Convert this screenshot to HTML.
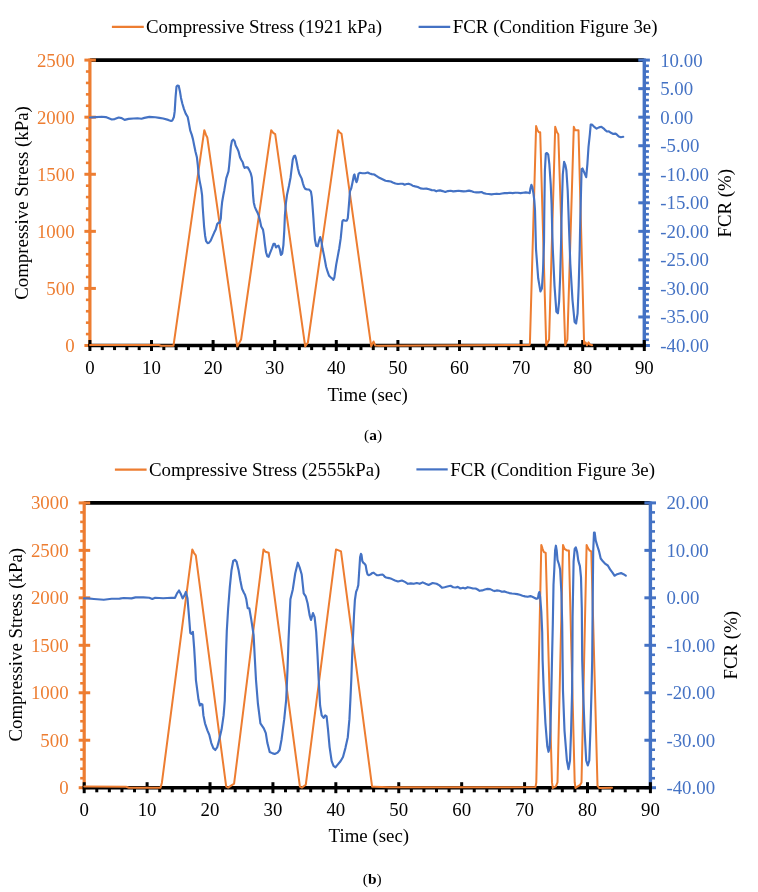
<!DOCTYPE html>
<html><head><meta charset="utf-8"><style>
html,body{margin:0;padding:0;background:#fff;width:758px;height:892px;overflow:hidden}
</style></head><body>
<svg width="758" height="892" viewBox="0 0 758 892" style="position:absolute;left:0;top:0;will-change:transform;font-family:'Liberation Serif',serif;font-size:18.85px">
<rect width="758" height="892" fill="#fff"/>
<line x1="111.9" y1="26.8" x2="143.8" y2="26.8" stroke="#ED7D31" stroke-width="2.2"/>
<text x="146" y="32.9" fill="#000">Compressive Stress (1921 kPa)</text>
<line x1="418.6" y1="26.8" x2="450.2" y2="26.8" stroke="#4472C4" stroke-width="2.2"/>
<text x="452.8" y="32.9" fill="#000">FCR (Condition Figure 3e)</text>
<line x1="89.9" y1="60.1" x2="644.3" y2="60.1" stroke="#000" stroke-width="3.6"/>
<line x1="89.9" y1="58.6" x2="89.9" y2="345.5" stroke="#ED7D31" stroke-width="3.2"/>
<line x1="84.4" y1="345.50" x2="95.9" y2="345.50" stroke="#ED7D31" stroke-width="3"/>
<line x1="85.9" y1="334.08" x2="89.9" y2="334.08" stroke="#ED7D31" stroke-width="2.6"/>
<line x1="85.9" y1="322.67" x2="89.9" y2="322.67" stroke="#ED7D31" stroke-width="2.6"/>
<line x1="85.9" y1="311.25" x2="89.9" y2="311.25" stroke="#ED7D31" stroke-width="2.6"/>
<line x1="85.9" y1="299.84" x2="89.9" y2="299.84" stroke="#ED7D31" stroke-width="2.6"/>
<line x1="84.4" y1="288.42" x2="95.9" y2="288.42" stroke="#ED7D31" stroke-width="3"/>
<line x1="85.9" y1="277.00" x2="89.9" y2="277.00" stroke="#ED7D31" stroke-width="2.6"/>
<line x1="85.9" y1="265.59" x2="89.9" y2="265.59" stroke="#ED7D31" stroke-width="2.6"/>
<line x1="85.9" y1="254.17" x2="89.9" y2="254.17" stroke="#ED7D31" stroke-width="2.6"/>
<line x1="85.9" y1="242.76" x2="89.9" y2="242.76" stroke="#ED7D31" stroke-width="2.6"/>
<line x1="84.4" y1="231.34" x2="95.9" y2="231.34" stroke="#ED7D31" stroke-width="3"/>
<line x1="85.9" y1="219.92" x2="89.9" y2="219.92" stroke="#ED7D31" stroke-width="2.6"/>
<line x1="85.9" y1="208.51" x2="89.9" y2="208.51" stroke="#ED7D31" stroke-width="2.6"/>
<line x1="85.9" y1="197.09" x2="89.9" y2="197.09" stroke="#ED7D31" stroke-width="2.6"/>
<line x1="85.9" y1="185.68" x2="89.9" y2="185.68" stroke="#ED7D31" stroke-width="2.6"/>
<line x1="84.4" y1="174.26" x2="95.9" y2="174.26" stroke="#ED7D31" stroke-width="3"/>
<line x1="85.9" y1="162.84" x2="89.9" y2="162.84" stroke="#ED7D31" stroke-width="2.6"/>
<line x1="85.9" y1="151.43" x2="89.9" y2="151.43" stroke="#ED7D31" stroke-width="2.6"/>
<line x1="85.9" y1="140.01" x2="89.9" y2="140.01" stroke="#ED7D31" stroke-width="2.6"/>
<line x1="85.9" y1="128.60" x2="89.9" y2="128.60" stroke="#ED7D31" stroke-width="2.6"/>
<line x1="84.4" y1="117.18" x2="95.9" y2="117.18" stroke="#ED7D31" stroke-width="3"/>
<line x1="85.9" y1="105.76" x2="89.9" y2="105.76" stroke="#ED7D31" stroke-width="2.6"/>
<line x1="85.9" y1="94.35" x2="89.9" y2="94.35" stroke="#ED7D31" stroke-width="2.6"/>
<line x1="85.9" y1="82.93" x2="89.9" y2="82.93" stroke="#ED7D31" stroke-width="2.6"/>
<line x1="85.9" y1="71.52" x2="89.9" y2="71.52" stroke="#ED7D31" stroke-width="2.6"/>
<line x1="84.4" y1="60.10" x2="95.9" y2="60.10" stroke="#ED7D31" stroke-width="3"/>
<text x="74.6" y="351.90" text-anchor="end" fill="#ED7D31">0</text>
<text x="74.6" y="294.82" text-anchor="end" fill="#ED7D31">500</text>
<text x="74.6" y="237.74" text-anchor="end" fill="#ED7D31">1000</text>
<text x="74.6" y="180.66" text-anchor="end" fill="#ED7D31">1500</text>
<text x="74.6" y="123.58" text-anchor="end" fill="#ED7D31">2000</text>
<text x="74.6" y="66.50" text-anchor="end" fill="#ED7D31">2500</text>
<line x1="644.3" y1="58.6" x2="644.3" y2="345.5" stroke="#4472C4" stroke-width="3.4"/>
<line x1="638.3" y1="345.50" x2="649.9" y2="345.50" stroke="#4472C4" stroke-width="3"/>
<line x1="644.3" y1="339.79" x2="648.9" y2="339.79" stroke="#4472C4" stroke-width="2.6"/>
<line x1="644.3" y1="334.08" x2="648.9" y2="334.08" stroke="#4472C4" stroke-width="2.6"/>
<line x1="644.3" y1="328.38" x2="648.9" y2="328.38" stroke="#4472C4" stroke-width="2.6"/>
<line x1="644.3" y1="322.67" x2="648.9" y2="322.67" stroke="#4472C4" stroke-width="2.6"/>
<line x1="638.3" y1="316.96" x2="649.9" y2="316.96" stroke="#4472C4" stroke-width="3"/>
<line x1="644.3" y1="311.25" x2="648.9" y2="311.25" stroke="#4472C4" stroke-width="2.6"/>
<line x1="644.3" y1="305.54" x2="648.9" y2="305.54" stroke="#4472C4" stroke-width="2.6"/>
<line x1="644.3" y1="299.84" x2="648.9" y2="299.84" stroke="#4472C4" stroke-width="2.6"/>
<line x1="644.3" y1="294.13" x2="648.9" y2="294.13" stroke="#4472C4" stroke-width="2.6"/>
<line x1="638.3" y1="288.42" x2="649.9" y2="288.42" stroke="#4472C4" stroke-width="3"/>
<line x1="644.3" y1="282.71" x2="648.9" y2="282.71" stroke="#4472C4" stroke-width="2.6"/>
<line x1="644.3" y1="277.00" x2="648.9" y2="277.00" stroke="#4472C4" stroke-width="2.6"/>
<line x1="644.3" y1="271.30" x2="648.9" y2="271.30" stroke="#4472C4" stroke-width="2.6"/>
<line x1="644.3" y1="265.59" x2="648.9" y2="265.59" stroke="#4472C4" stroke-width="2.6"/>
<line x1="638.3" y1="259.88" x2="649.9" y2="259.88" stroke="#4472C4" stroke-width="3"/>
<line x1="644.3" y1="254.17" x2="648.9" y2="254.17" stroke="#4472C4" stroke-width="2.6"/>
<line x1="644.3" y1="248.46" x2="648.9" y2="248.46" stroke="#4472C4" stroke-width="2.6"/>
<line x1="644.3" y1="242.76" x2="648.9" y2="242.76" stroke="#4472C4" stroke-width="2.6"/>
<line x1="644.3" y1="237.05" x2="648.9" y2="237.05" stroke="#4472C4" stroke-width="2.6"/>
<line x1="638.3" y1="231.34" x2="649.9" y2="231.34" stroke="#4472C4" stroke-width="3"/>
<line x1="644.3" y1="225.63" x2="648.9" y2="225.63" stroke="#4472C4" stroke-width="2.6"/>
<line x1="644.3" y1="219.92" x2="648.9" y2="219.92" stroke="#4472C4" stroke-width="2.6"/>
<line x1="644.3" y1="214.22" x2="648.9" y2="214.22" stroke="#4472C4" stroke-width="2.6"/>
<line x1="644.3" y1="208.51" x2="648.9" y2="208.51" stroke="#4472C4" stroke-width="2.6"/>
<line x1="638.3" y1="202.80" x2="649.9" y2="202.80" stroke="#4472C4" stroke-width="3"/>
<line x1="644.3" y1="197.09" x2="648.9" y2="197.09" stroke="#4472C4" stroke-width="2.6"/>
<line x1="644.3" y1="191.38" x2="648.9" y2="191.38" stroke="#4472C4" stroke-width="2.6"/>
<line x1="644.3" y1="185.68" x2="648.9" y2="185.68" stroke="#4472C4" stroke-width="2.6"/>
<line x1="644.3" y1="179.97" x2="648.9" y2="179.97" stroke="#4472C4" stroke-width="2.6"/>
<line x1="638.3" y1="174.26" x2="649.9" y2="174.26" stroke="#4472C4" stroke-width="3"/>
<line x1="644.3" y1="168.55" x2="648.9" y2="168.55" stroke="#4472C4" stroke-width="2.6"/>
<line x1="644.3" y1="162.84" x2="648.9" y2="162.84" stroke="#4472C4" stroke-width="2.6"/>
<line x1="644.3" y1="157.14" x2="648.9" y2="157.14" stroke="#4472C4" stroke-width="2.6"/>
<line x1="644.3" y1="151.43" x2="648.9" y2="151.43" stroke="#4472C4" stroke-width="2.6"/>
<line x1="638.3" y1="145.72" x2="649.9" y2="145.72" stroke="#4472C4" stroke-width="3"/>
<line x1="644.3" y1="140.01" x2="648.9" y2="140.01" stroke="#4472C4" stroke-width="2.6"/>
<line x1="644.3" y1="134.30" x2="648.9" y2="134.30" stroke="#4472C4" stroke-width="2.6"/>
<line x1="644.3" y1="128.60" x2="648.9" y2="128.60" stroke="#4472C4" stroke-width="2.6"/>
<line x1="644.3" y1="122.89" x2="648.9" y2="122.89" stroke="#4472C4" stroke-width="2.6"/>
<line x1="638.3" y1="117.18" x2="649.9" y2="117.18" stroke="#4472C4" stroke-width="3"/>
<line x1="644.3" y1="111.47" x2="648.9" y2="111.47" stroke="#4472C4" stroke-width="2.6"/>
<line x1="644.3" y1="105.76" x2="648.9" y2="105.76" stroke="#4472C4" stroke-width="2.6"/>
<line x1="644.3" y1="100.06" x2="648.9" y2="100.06" stroke="#4472C4" stroke-width="2.6"/>
<line x1="644.3" y1="94.35" x2="648.9" y2="94.35" stroke="#4472C4" stroke-width="2.6"/>
<line x1="638.3" y1="88.64" x2="649.9" y2="88.64" stroke="#4472C4" stroke-width="3"/>
<line x1="644.3" y1="82.93" x2="648.9" y2="82.93" stroke="#4472C4" stroke-width="2.6"/>
<line x1="644.3" y1="77.22" x2="648.9" y2="77.22" stroke="#4472C4" stroke-width="2.6"/>
<line x1="644.3" y1="71.52" x2="648.9" y2="71.52" stroke="#4472C4" stroke-width="2.6"/>
<line x1="644.3" y1="65.81" x2="648.9" y2="65.81" stroke="#4472C4" stroke-width="2.6"/>
<line x1="638.3" y1="60.10" x2="649.9" y2="60.10" stroke="#4472C4" stroke-width="3"/>
<text x="660.2" y="351.90" fill="#4472C4">-40.00</text>
<text x="660.2" y="323.36" fill="#4472C4">-35.00</text>
<text x="660.2" y="294.82" fill="#4472C4">-30.00</text>
<text x="660.2" y="266.28" fill="#4472C4">-25.00</text>
<text x="660.2" y="237.74" fill="#4472C4">-20.00</text>
<text x="660.2" y="209.20" fill="#4472C4">-15.00</text>
<text x="660.2" y="180.66" fill="#4472C4">-10.00</text>
<text x="660.2" y="152.12" fill="#4472C4">-5.00</text>
<text x="660.2" y="123.58" fill="#4472C4">0.00</text>
<text x="660.2" y="95.04" fill="#4472C4">5.00</text>
<text x="660.2" y="66.50" fill="#4472C4">10.00</text>
<line x1="88.4" y1="345.5" x2="645.8" y2="345.5" stroke="#000" stroke-width="3.6"/>
<line x1="89.90" y1="340.0" x2="89.90" y2="351.0" stroke="#000" stroke-width="3"/>
<line x1="102.22" y1="345.5" x2="102.22" y2="350.1" stroke="#000" stroke-width="3"/>
<line x1="114.54" y1="345.5" x2="114.54" y2="350.1" stroke="#000" stroke-width="3"/>
<line x1="126.86" y1="345.5" x2="126.86" y2="350.1" stroke="#000" stroke-width="3"/>
<line x1="139.18" y1="345.5" x2="139.18" y2="350.1" stroke="#000" stroke-width="3"/>
<line x1="151.50" y1="340.0" x2="151.50" y2="351.0" stroke="#000" stroke-width="3"/>
<line x1="163.82" y1="345.5" x2="163.82" y2="350.1" stroke="#000" stroke-width="3"/>
<line x1="176.14" y1="345.5" x2="176.14" y2="350.1" stroke="#000" stroke-width="3"/>
<line x1="188.46" y1="345.5" x2="188.46" y2="350.1" stroke="#000" stroke-width="3"/>
<line x1="200.78" y1="345.5" x2="200.78" y2="350.1" stroke="#000" stroke-width="3"/>
<line x1="213.10" y1="340.0" x2="213.10" y2="351.0" stroke="#000" stroke-width="3"/>
<line x1="225.42" y1="345.5" x2="225.42" y2="350.1" stroke="#000" stroke-width="3"/>
<line x1="237.74" y1="345.5" x2="237.74" y2="350.1" stroke="#000" stroke-width="3"/>
<line x1="250.06" y1="345.5" x2="250.06" y2="350.1" stroke="#000" stroke-width="3"/>
<line x1="262.38" y1="345.5" x2="262.38" y2="350.1" stroke="#000" stroke-width="3"/>
<line x1="274.70" y1="340.0" x2="274.70" y2="351.0" stroke="#000" stroke-width="3"/>
<line x1="287.02" y1="345.5" x2="287.02" y2="350.1" stroke="#000" stroke-width="3"/>
<line x1="299.34" y1="345.5" x2="299.34" y2="350.1" stroke="#000" stroke-width="3"/>
<line x1="311.66" y1="345.5" x2="311.66" y2="350.1" stroke="#000" stroke-width="3"/>
<line x1="323.98" y1="345.5" x2="323.98" y2="350.1" stroke="#000" stroke-width="3"/>
<line x1="336.30" y1="340.0" x2="336.30" y2="351.0" stroke="#000" stroke-width="3"/>
<line x1="348.62" y1="345.5" x2="348.62" y2="350.1" stroke="#000" stroke-width="3"/>
<line x1="360.94" y1="345.5" x2="360.94" y2="350.1" stroke="#000" stroke-width="3"/>
<line x1="373.26" y1="345.5" x2="373.26" y2="350.1" stroke="#000" stroke-width="3"/>
<line x1="385.58" y1="345.5" x2="385.58" y2="350.1" stroke="#000" stroke-width="3"/>
<line x1="397.90" y1="340.0" x2="397.90" y2="351.0" stroke="#000" stroke-width="3"/>
<line x1="410.22" y1="345.5" x2="410.22" y2="350.1" stroke="#000" stroke-width="3"/>
<line x1="422.54" y1="345.5" x2="422.54" y2="350.1" stroke="#000" stroke-width="3"/>
<line x1="434.86" y1="345.5" x2="434.86" y2="350.1" stroke="#000" stroke-width="3"/>
<line x1="447.18" y1="345.5" x2="447.18" y2="350.1" stroke="#000" stroke-width="3"/>
<line x1="459.50" y1="340.0" x2="459.50" y2="351.0" stroke="#000" stroke-width="3"/>
<line x1="471.82" y1="345.5" x2="471.82" y2="350.1" stroke="#000" stroke-width="3"/>
<line x1="484.14" y1="345.5" x2="484.14" y2="350.1" stroke="#000" stroke-width="3"/>
<line x1="496.46" y1="345.5" x2="496.46" y2="350.1" stroke="#000" stroke-width="3"/>
<line x1="508.78" y1="345.5" x2="508.78" y2="350.1" stroke="#000" stroke-width="3"/>
<line x1="521.10" y1="340.0" x2="521.10" y2="351.0" stroke="#000" stroke-width="3"/>
<line x1="533.42" y1="345.5" x2="533.42" y2="350.1" stroke="#000" stroke-width="3"/>
<line x1="545.74" y1="345.5" x2="545.74" y2="350.1" stroke="#000" stroke-width="3"/>
<line x1="558.06" y1="345.5" x2="558.06" y2="350.1" stroke="#000" stroke-width="3"/>
<line x1="570.38" y1="345.5" x2="570.38" y2="350.1" stroke="#000" stroke-width="3"/>
<line x1="582.70" y1="340.0" x2="582.70" y2="351.0" stroke="#000" stroke-width="3"/>
<line x1="595.02" y1="345.5" x2="595.02" y2="350.1" stroke="#000" stroke-width="3"/>
<line x1="607.34" y1="345.5" x2="607.34" y2="350.1" stroke="#000" stroke-width="3"/>
<line x1="619.66" y1="345.5" x2="619.66" y2="350.1" stroke="#000" stroke-width="3"/>
<line x1="631.98" y1="345.5" x2="631.98" y2="350.1" stroke="#000" stroke-width="3"/>
<line x1="644.30" y1="340.0" x2="644.30" y2="351.0" stroke="#000" stroke-width="3"/>
<text x="89.90" y="373.8" text-anchor="middle" fill="#000">0</text>
<text x="151.50" y="373.8" text-anchor="middle" fill="#000">10</text>
<text x="213.10" y="373.8" text-anchor="middle" fill="#000">20</text>
<text x="274.70" y="373.8" text-anchor="middle" fill="#000">30</text>
<text x="336.30" y="373.8" text-anchor="middle" fill="#000">40</text>
<text x="397.90" y="373.8" text-anchor="middle" fill="#000">50</text>
<text x="459.50" y="373.8" text-anchor="middle" fill="#000">60</text>
<text x="521.10" y="373.8" text-anchor="middle" fill="#000">70</text>
<text x="582.70" y="373.8" text-anchor="middle" fill="#000">80</text>
<text x="644.30" y="373.8" text-anchor="middle" fill="#000">90</text>
<polyline points="90.0,345.0 159.0,345.0 161.0,345.7 173.5,345.7 204.3,130.2 205.9,134.7 207.3,137.5 237.2,346.4 241.1,339.5 271.2,130.2 273.2,132.8 275.2,134.1 305.2,346.4 307.9,342.5 338.1,130.2 339.5,132.2 341.5,133.7 371.2,346.4 373.6,341.5 375.2,345.5 379.2,345.8 529.5,345.0 529.9,343.9 536.1,126.1 537.5,130.2 538.8,132.2 540.2,132.2 546.2,345.3 549.1,339.5 555.2,126.8 557.0,132.2 558.3,134.2 565.2,345.3 567.4,339.5 573.8,126.8 575.1,130.2 578.5,130.2 584.1,343.9 585.6,342.4 587.0,345.3 588.5,342.4 590.0,344.6 592.1,345.3" fill="none" stroke="#ED7D31" stroke-width="2.0" stroke-linejoin="round" stroke-linecap="round"/>
<polyline points="90.0,117.5 95.9,117.1 101.9,116.7 105.8,117.1 111.8,119.5 114.7,119.1 118.7,117.5 121.7,118.1 124.6,119.9 128.6,118.9 133.5,118.5 137.5,118.3 141.5,118.7 144.4,117.9 149.4,116.9 155.3,117.3 159.3,117.9 163.2,118.5 168.2,119.9 171.1,120.9 172.4,120.4 173.9,117.0 174.7,111.4 175.6,96.8 176.5,86.7 177.3,85.6 178.7,85.8 179.9,91.2 181.0,97.9 182.3,103.5 184.0,109.1 185.7,113.6 187.7,117.0 188.8,122.6 190.2,130.4 191.8,134.9 193.0,139.4 194.1,145.0 195.5,151.7 196.9,157.3 197.8,165.2 198.6,174.1 199.5,180.1 201.1,188.2 202.1,195.3 202.6,205.4 203.3,215.5 204.1,226.6 205.1,235.7 206.1,241.2 207.6,243.2 209.1,242.7 210.7,240.7 212.2,237.2 214.2,232.6 215.7,229.6 217.2,224.0 218.7,222.5 219.7,223.0 220.8,218.5 221.3,210.4 222.1,202.3 223.3,195.3 224.3,190.2 225.3,184.1 226.3,178.1 227.3,175.1 228.5,171.4 229.2,165.4 230.1,155.3 230.9,146.2 231.9,141.1 233.3,139.6 234.6,141.1 235.6,145.2 237.1,148.2 238.6,151.7 240.0,157.3 241.2,159.8 242.7,162.3 243.7,165.9 244.7,167.9 246.2,167.2 247.7,167.4 249.2,169.9 250.8,173.4 251.8,177.5 252.5,185.6 253.1,195.7 253.8,202.7 254.8,206.8 256.3,210.3 257.8,213.3 258.8,215.9 260.2,221.6 261.2,226.5 263.0,229.6 263.9,235.2 264.9,243.8 266.1,252.5 267.3,256.2 268.6,256.8 269.8,253.7 271.7,248.8 273.5,243.8 274.8,243.8 276.0,247.5 277.2,246.3 278.5,245.7 279.7,248.8 280.9,254.9 282.2,253.7 283.4,245.1 284.3,230.2 284.9,215.4 285.9,203.1 287.1,194.4 289.0,185.8 290.6,177.2 291.8,167.3 292.7,159.9 293.9,156.2 295.0,155.6 295.7,157.4 296.7,162.3 297.9,168.5 299.2,173.5 300.4,175.9 301.6,178.4 302.9,183.3 304.1,187.0 305.3,188.9 307.2,189.5 309.0,189.5 310.9,191.4 311.8,196.9 312.5,205.6 313.4,217.9 314.2,230.2 315.0,240.1 316.2,245.7 317.7,246.3 318.9,241.4 320.2,237.0 321.4,241.4 322.6,248.8 323.9,254.9 324.9,260.1 326.1,266.7 327.6,271.7 329.1,275.8 330.6,277.3 332.1,278.3 333.3,279.8 334.3,277.8 335.2,271.7 336.2,264.6 337.7,256.6 339.2,248.5 340.7,238.4 341.7,228.3 342.4,221.2 343.4,220.0 345.3,220.7 346.8,220.7 347.8,218.2 348.5,210.1 349.3,200.0 349.9,191.7 351.2,188.4 352.5,182.4 353.9,175.2 354.5,174.5 355.6,179.8 356.5,182.2 357.4,179.8 358.5,173.9 359.8,172.8 362.4,173.2 365.1,173.2 367.7,172.5 369.7,173.5 371.7,174.1 374.3,174.5 376.3,175.8 378.3,177.2 380.9,178.5 383.5,179.8 385.5,180.8 388.2,181.1 390.8,181.5 392.8,182.4 395.4,183.5 398.0,184.0 400.7,183.7 402.7,183.7 404.6,184.7 406.6,184.0 408.6,183.7 410.6,184.4 412.6,185.7 415.2,186.4 417.8,187.0 420.5,188.4 423.1,188.8 426.4,188.6 429.1,189.3 431.7,190.1 434.3,190.3 436.3,191.3 438.3,190.6 440.0,190.4 442.6,191.1 445.3,192.0 447.9,191.1 450.6,190.8 453.2,191.4 455.8,191.1 458.5,190.8 461.1,191.1 463.7,191.4 466.4,191.1 469.0,190.6 471.0,191.1 473.6,192.0 476.3,192.4 478.9,192.4 481.6,192.0 483.5,193.1 486.2,193.7 488.8,194.0 491.5,194.4 494.1,194.0 496.7,193.7 499.4,194.0 502.0,193.5 504.6,193.1 507.3,193.1 509.9,192.8 512.6,193.1 515.2,192.7 517.8,192.8 520.5,193.1 523.1,192.7 525.8,192.4 528.4,192.7 529.7,193.1 530.4,188.5 531.4,184.8 532.3,187.2 533.4,193.1 534.3,200.3 535.0,210.0 535.5,229.9 536.0,249.1 538.2,278.3 540.4,291.4 541.9,288.5 543.0,271.0 544.0,241.9 544.2,220.0 544.4,204.1 544.9,170.5 545.8,153.7 546.9,153.0 548.2,154.4 549.3,163.8 550.7,184.0 551.6,204.1 552.2,229.9 552.8,249.1 554.5,285.6 556.4,311.8 557.9,313.3 559.1,301.6 560.1,278.3 561.1,241.9 561.5,220.0 561.9,204.1 562.8,174.5 564.1,161.8 565.4,165.1 566.4,170.5 567.7,190.7 569.1,229.9 570.3,263.7 572.5,300.1 574.6,322.0 576.1,323.5 577.6,313.3 578.7,285.6 579.7,249.1 580.3,220.0 580.7,204.1 581.6,169.2 582.5,168.5 584.5,173.2 586.2,177.2 587.4,163.8 588.5,147.0 589.9,133.8 590.7,124.6 591.9,124.6 593.9,126.6 596.6,128.6 599.0,127.4 601.4,126.8 603.8,128.6 605.3,130.2 606.9,131.5 608.9,131.4 610.9,132.8 613.3,133.9 615.6,133.6 617.2,134.9 618.8,136.5 620.8,137.2 623.2,136.8" fill="none" stroke="#4472C4" stroke-width="2.15" stroke-linejoin="round" stroke-linecap="round"/>
<text transform="translate(27.9,299.8) rotate(-90)" fill="#000">Compressive Stress (kPa)</text>
<text transform="translate(731.3,237.6) rotate(-90)" fill="#000">FCR (%)</text>
<text x="327.4" y="400.8" fill="#000">Time (sec)</text>
<text x="364.1" y="440.0" style="font-size:15.4px" fill="#000">(<tspan font-weight="bold">a</tspan>)</text>
<line x1="114.9" y1="469.6" x2="146.6" y2="469.6" stroke="#ED7D31" stroke-width="2.2"/>
<text x="149" y="475.6" fill="#000">Compressive Stress (2555kPa)</text>
<line x1="416.4" y1="469.4" x2="447.7" y2="469.4" stroke="#4472C4" stroke-width="2.2"/>
<text x="450.3" y="475.6" fill="#000">FCR (Condition Figure 3e)</text>
<line x1="84.2" y1="502.9" x2="650.4" y2="502.9" stroke="#000" stroke-width="3.6"/>
<line x1="84.2" y1="501.4" x2="84.2" y2="787.7" stroke="#ED7D31" stroke-width="3.2"/>
<line x1="78.7" y1="787.70" x2="90.2" y2="787.70" stroke="#ED7D31" stroke-width="3"/>
<line x1="80.2" y1="778.21" x2="84.2" y2="778.21" stroke="#ED7D31" stroke-width="2.6"/>
<line x1="80.2" y1="768.71" x2="84.2" y2="768.71" stroke="#ED7D31" stroke-width="2.6"/>
<line x1="80.2" y1="759.22" x2="84.2" y2="759.22" stroke="#ED7D31" stroke-width="2.6"/>
<line x1="80.2" y1="749.73" x2="84.2" y2="749.73" stroke="#ED7D31" stroke-width="2.6"/>
<line x1="78.7" y1="740.23" x2="90.2" y2="740.23" stroke="#ED7D31" stroke-width="3"/>
<line x1="80.2" y1="730.74" x2="84.2" y2="730.74" stroke="#ED7D31" stroke-width="2.6"/>
<line x1="80.2" y1="721.25" x2="84.2" y2="721.25" stroke="#ED7D31" stroke-width="2.6"/>
<line x1="80.2" y1="711.75" x2="84.2" y2="711.75" stroke="#ED7D31" stroke-width="2.6"/>
<line x1="80.2" y1="702.26" x2="84.2" y2="702.26" stroke="#ED7D31" stroke-width="2.6"/>
<line x1="78.7" y1="692.77" x2="90.2" y2="692.77" stroke="#ED7D31" stroke-width="3"/>
<line x1="80.2" y1="683.27" x2="84.2" y2="683.27" stroke="#ED7D31" stroke-width="2.6"/>
<line x1="80.2" y1="673.78" x2="84.2" y2="673.78" stroke="#ED7D31" stroke-width="2.6"/>
<line x1="80.2" y1="664.29" x2="84.2" y2="664.29" stroke="#ED7D31" stroke-width="2.6"/>
<line x1="80.2" y1="654.79" x2="84.2" y2="654.79" stroke="#ED7D31" stroke-width="2.6"/>
<line x1="78.7" y1="645.30" x2="90.2" y2="645.30" stroke="#ED7D31" stroke-width="3"/>
<line x1="80.2" y1="635.81" x2="84.2" y2="635.81" stroke="#ED7D31" stroke-width="2.6"/>
<line x1="80.2" y1="626.31" x2="84.2" y2="626.31" stroke="#ED7D31" stroke-width="2.6"/>
<line x1="80.2" y1="616.82" x2="84.2" y2="616.82" stroke="#ED7D31" stroke-width="2.6"/>
<line x1="80.2" y1="607.33" x2="84.2" y2="607.33" stroke="#ED7D31" stroke-width="2.6"/>
<line x1="78.7" y1="597.83" x2="90.2" y2="597.83" stroke="#ED7D31" stroke-width="3"/>
<line x1="80.2" y1="588.34" x2="84.2" y2="588.34" stroke="#ED7D31" stroke-width="2.6"/>
<line x1="80.2" y1="578.85" x2="84.2" y2="578.85" stroke="#ED7D31" stroke-width="2.6"/>
<line x1="80.2" y1="569.35" x2="84.2" y2="569.35" stroke="#ED7D31" stroke-width="2.6"/>
<line x1="80.2" y1="559.86" x2="84.2" y2="559.86" stroke="#ED7D31" stroke-width="2.6"/>
<line x1="78.7" y1="550.37" x2="90.2" y2="550.37" stroke="#ED7D31" stroke-width="3"/>
<line x1="80.2" y1="540.87" x2="84.2" y2="540.87" stroke="#ED7D31" stroke-width="2.6"/>
<line x1="80.2" y1="531.38" x2="84.2" y2="531.38" stroke="#ED7D31" stroke-width="2.6"/>
<line x1="80.2" y1="521.89" x2="84.2" y2="521.89" stroke="#ED7D31" stroke-width="2.6"/>
<line x1="80.2" y1="512.39" x2="84.2" y2="512.39" stroke="#ED7D31" stroke-width="2.6"/>
<line x1="78.7" y1="502.90" x2="90.2" y2="502.90" stroke="#ED7D31" stroke-width="3"/>
<text x="68.6" y="794.10" text-anchor="end" fill="#ED7D31">0</text>
<text x="68.6" y="746.63" text-anchor="end" fill="#ED7D31">500</text>
<text x="68.6" y="699.17" text-anchor="end" fill="#ED7D31">1000</text>
<text x="68.6" y="651.70" text-anchor="end" fill="#ED7D31">1500</text>
<text x="68.6" y="604.23" text-anchor="end" fill="#ED7D31">2000</text>
<text x="68.6" y="556.77" text-anchor="end" fill="#ED7D31">2500</text>
<text x="68.6" y="509.30" text-anchor="end" fill="#ED7D31">3000</text>
<line x1="650.4" y1="501.4" x2="650.4" y2="787.7" stroke="#4472C4" stroke-width="3.4"/>
<line x1="644.4" y1="787.70" x2="656.0" y2="787.70" stroke="#4472C4" stroke-width="3"/>
<line x1="650.4" y1="778.21" x2="655.0" y2="778.21" stroke="#4472C4" stroke-width="2.6"/>
<line x1="650.4" y1="768.71" x2="655.0" y2="768.71" stroke="#4472C4" stroke-width="2.6"/>
<line x1="650.4" y1="759.22" x2="655.0" y2="759.22" stroke="#4472C4" stroke-width="2.6"/>
<line x1="650.4" y1="749.73" x2="655.0" y2="749.73" stroke="#4472C4" stroke-width="2.6"/>
<line x1="644.4" y1="740.23" x2="656.0" y2="740.23" stroke="#4472C4" stroke-width="3"/>
<line x1="650.4" y1="730.74" x2="655.0" y2="730.74" stroke="#4472C4" stroke-width="2.6"/>
<line x1="650.4" y1="721.25" x2="655.0" y2="721.25" stroke="#4472C4" stroke-width="2.6"/>
<line x1="650.4" y1="711.75" x2="655.0" y2="711.75" stroke="#4472C4" stroke-width="2.6"/>
<line x1="650.4" y1="702.26" x2="655.0" y2="702.26" stroke="#4472C4" stroke-width="2.6"/>
<line x1="644.4" y1="692.77" x2="656.0" y2="692.77" stroke="#4472C4" stroke-width="3"/>
<line x1="650.4" y1="683.27" x2="655.0" y2="683.27" stroke="#4472C4" stroke-width="2.6"/>
<line x1="650.4" y1="673.78" x2="655.0" y2="673.78" stroke="#4472C4" stroke-width="2.6"/>
<line x1="650.4" y1="664.29" x2="655.0" y2="664.29" stroke="#4472C4" stroke-width="2.6"/>
<line x1="650.4" y1="654.79" x2="655.0" y2="654.79" stroke="#4472C4" stroke-width="2.6"/>
<line x1="644.4" y1="645.30" x2="656.0" y2="645.30" stroke="#4472C4" stroke-width="3"/>
<line x1="650.4" y1="635.81" x2="655.0" y2="635.81" stroke="#4472C4" stroke-width="2.6"/>
<line x1="650.4" y1="626.31" x2="655.0" y2="626.31" stroke="#4472C4" stroke-width="2.6"/>
<line x1="650.4" y1="616.82" x2="655.0" y2="616.82" stroke="#4472C4" stroke-width="2.6"/>
<line x1="650.4" y1="607.33" x2="655.0" y2="607.33" stroke="#4472C4" stroke-width="2.6"/>
<line x1="644.4" y1="597.83" x2="656.0" y2="597.83" stroke="#4472C4" stroke-width="3"/>
<line x1="650.4" y1="588.34" x2="655.0" y2="588.34" stroke="#4472C4" stroke-width="2.6"/>
<line x1="650.4" y1="578.85" x2="655.0" y2="578.85" stroke="#4472C4" stroke-width="2.6"/>
<line x1="650.4" y1="569.35" x2="655.0" y2="569.35" stroke="#4472C4" stroke-width="2.6"/>
<line x1="650.4" y1="559.86" x2="655.0" y2="559.86" stroke="#4472C4" stroke-width="2.6"/>
<line x1="644.4" y1="550.37" x2="656.0" y2="550.37" stroke="#4472C4" stroke-width="3"/>
<line x1="650.4" y1="540.87" x2="655.0" y2="540.87" stroke="#4472C4" stroke-width="2.6"/>
<line x1="650.4" y1="531.38" x2="655.0" y2="531.38" stroke="#4472C4" stroke-width="2.6"/>
<line x1="650.4" y1="521.89" x2="655.0" y2="521.89" stroke="#4472C4" stroke-width="2.6"/>
<line x1="650.4" y1="512.39" x2="655.0" y2="512.39" stroke="#4472C4" stroke-width="2.6"/>
<line x1="644.4" y1="502.90" x2="656.0" y2="502.90" stroke="#4472C4" stroke-width="3"/>
<text x="666.4" y="794.10" fill="#4472C4">-40.00</text>
<text x="666.4" y="746.63" fill="#4472C4">-30.00</text>
<text x="666.4" y="699.17" fill="#4472C4">-20.00</text>
<text x="666.4" y="651.70" fill="#4472C4">-10.00</text>
<text x="666.4" y="604.23" fill="#4472C4">0.00</text>
<text x="666.4" y="556.77" fill="#4472C4">10.00</text>
<text x="666.4" y="509.30" fill="#4472C4">20.00</text>
<line x1="82.7" y1="787.7" x2="651.9" y2="787.7" stroke="#000" stroke-width="3.6"/>
<line x1="84.20" y1="782.2" x2="84.20" y2="793.2" stroke="#000" stroke-width="3"/>
<line x1="96.78" y1="787.7" x2="96.78" y2="792.3000000000001" stroke="#000" stroke-width="3"/>
<line x1="109.36" y1="787.7" x2="109.36" y2="792.3000000000001" stroke="#000" stroke-width="3"/>
<line x1="121.95" y1="787.7" x2="121.95" y2="792.3000000000001" stroke="#000" stroke-width="3"/>
<line x1="134.53" y1="787.7" x2="134.53" y2="792.3000000000001" stroke="#000" stroke-width="3"/>
<line x1="147.11" y1="782.2" x2="147.11" y2="793.2" stroke="#000" stroke-width="3"/>
<line x1="159.69" y1="787.7" x2="159.69" y2="792.3000000000001" stroke="#000" stroke-width="3"/>
<line x1="172.28" y1="787.7" x2="172.28" y2="792.3000000000001" stroke="#000" stroke-width="3"/>
<line x1="184.86" y1="787.7" x2="184.86" y2="792.3000000000001" stroke="#000" stroke-width="3"/>
<line x1="197.44" y1="787.7" x2="197.44" y2="792.3000000000001" stroke="#000" stroke-width="3"/>
<line x1="210.02" y1="782.2" x2="210.02" y2="793.2" stroke="#000" stroke-width="3"/>
<line x1="222.60" y1="787.7" x2="222.60" y2="792.3000000000001" stroke="#000" stroke-width="3"/>
<line x1="235.19" y1="787.7" x2="235.19" y2="792.3000000000001" stroke="#000" stroke-width="3"/>
<line x1="247.77" y1="787.7" x2="247.77" y2="792.3000000000001" stroke="#000" stroke-width="3"/>
<line x1="260.35" y1="787.7" x2="260.35" y2="792.3000000000001" stroke="#000" stroke-width="3"/>
<line x1="272.93" y1="782.2" x2="272.93" y2="793.2" stroke="#000" stroke-width="3"/>
<line x1="285.52" y1="787.7" x2="285.52" y2="792.3000000000001" stroke="#000" stroke-width="3"/>
<line x1="298.10" y1="787.7" x2="298.10" y2="792.3000000000001" stroke="#000" stroke-width="3"/>
<line x1="310.68" y1="787.7" x2="310.68" y2="792.3000000000001" stroke="#000" stroke-width="3"/>
<line x1="323.26" y1="787.7" x2="323.26" y2="792.3000000000001" stroke="#000" stroke-width="3"/>
<line x1="335.84" y1="782.2" x2="335.84" y2="793.2" stroke="#000" stroke-width="3"/>
<line x1="348.43" y1="787.7" x2="348.43" y2="792.3000000000001" stroke="#000" stroke-width="3"/>
<line x1="361.01" y1="787.7" x2="361.01" y2="792.3000000000001" stroke="#000" stroke-width="3"/>
<line x1="373.59" y1="787.7" x2="373.59" y2="792.3000000000001" stroke="#000" stroke-width="3"/>
<line x1="386.17" y1="787.7" x2="386.17" y2="792.3000000000001" stroke="#000" stroke-width="3"/>
<line x1="398.76" y1="782.2" x2="398.76" y2="793.2" stroke="#000" stroke-width="3"/>
<line x1="411.34" y1="787.7" x2="411.34" y2="792.3000000000001" stroke="#000" stroke-width="3"/>
<line x1="423.92" y1="787.7" x2="423.92" y2="792.3000000000001" stroke="#000" stroke-width="3"/>
<line x1="436.50" y1="787.7" x2="436.50" y2="792.3000000000001" stroke="#000" stroke-width="3"/>
<line x1="449.08" y1="787.7" x2="449.08" y2="792.3000000000001" stroke="#000" stroke-width="3"/>
<line x1="461.67" y1="782.2" x2="461.67" y2="793.2" stroke="#000" stroke-width="3"/>
<line x1="474.25" y1="787.7" x2="474.25" y2="792.3000000000001" stroke="#000" stroke-width="3"/>
<line x1="486.83" y1="787.7" x2="486.83" y2="792.3000000000001" stroke="#000" stroke-width="3"/>
<line x1="499.41" y1="787.7" x2="499.41" y2="792.3000000000001" stroke="#000" stroke-width="3"/>
<line x1="512.00" y1="787.7" x2="512.00" y2="792.3000000000001" stroke="#000" stroke-width="3"/>
<line x1="524.58" y1="782.2" x2="524.58" y2="793.2" stroke="#000" stroke-width="3"/>
<line x1="537.16" y1="787.7" x2="537.16" y2="792.3000000000001" stroke="#000" stroke-width="3"/>
<line x1="549.74" y1="787.7" x2="549.74" y2="792.3000000000001" stroke="#000" stroke-width="3"/>
<line x1="562.32" y1="787.7" x2="562.32" y2="792.3000000000001" stroke="#000" stroke-width="3"/>
<line x1="574.91" y1="787.7" x2="574.91" y2="792.3000000000001" stroke="#000" stroke-width="3"/>
<line x1="587.49" y1="782.2" x2="587.49" y2="793.2" stroke="#000" stroke-width="3"/>
<line x1="600.07" y1="787.7" x2="600.07" y2="792.3000000000001" stroke="#000" stroke-width="3"/>
<line x1="612.65" y1="787.7" x2="612.65" y2="792.3000000000001" stroke="#000" stroke-width="3"/>
<line x1="625.24" y1="787.7" x2="625.24" y2="792.3000000000001" stroke="#000" stroke-width="3"/>
<line x1="637.82" y1="787.7" x2="637.82" y2="792.3000000000001" stroke="#000" stroke-width="3"/>
<line x1="650.40" y1="782.2" x2="650.40" y2="793.2" stroke="#000" stroke-width="3"/>
<text x="84.20" y="816.0" text-anchor="middle" fill="#000">0</text>
<text x="147.11" y="816.0" text-anchor="middle" fill="#000">10</text>
<text x="210.02" y="816.0" text-anchor="middle" fill="#000">20</text>
<text x="272.93" y="816.0" text-anchor="middle" fill="#000">30</text>
<text x="335.84" y="816.0" text-anchor="middle" fill="#000">40</text>
<text x="398.76" y="816.0" text-anchor="middle" fill="#000">50</text>
<text x="461.67" y="816.0" text-anchor="middle" fill="#000">60</text>
<text x="524.58" y="816.0" text-anchor="middle" fill="#000">70</text>
<text x="587.49" y="816.0" text-anchor="middle" fill="#000">80</text>
<text x="650.40" y="816.0" text-anchor="middle" fill="#000">90</text>
<polyline points="84.3,786.6 126.0,786.8 129.0,787.7 160.5,787.7 161.9,782.7 192.3,549.4 193.9,552.8 195.8,555.3 226.2,786.7 228.2,787.6 234.1,783.7 263.5,549.4 265.5,551.8 268.7,552.8 299.9,786.7 301.9,787.6 305.8,784.7 336.0,549.4 338.6,550.4 341.0,551.4 372.1,786.7 374.1,786.7 389.0,787.3 535.5,787.1 536.3,782.4 541.3,544.9 542.6,548.8 543.8,552.0 545.7,552.8 552.0,782.4 552.8,787.9 555.9,786.4 557.5,782.4 563.0,544.9 564.5,548.8 566.9,550.4 568.9,550.4 574.7,782.4 575.5,787.9 580.2,784.8 581.5,782.4 586.6,545.0 588.1,548.3 589.7,550.6 591.3,551.4 597.5,785.6 599.1,788.0 612.0,787.7" fill="none" stroke="#ED7D31" stroke-width="2.0" stroke-linejoin="round" stroke-linecap="round"/>
<polyline points="84.0,598.4 88.0,598.4 93.9,599.0 103.8,599.8 111.7,598.8 119.6,598.6 123.6,598.0 131.5,598.4 135.5,597.4 143.4,597.4 149.3,597.8 152.3,599.0 155.2,597.8 163.2,598.2 171.1,597.8 175.0,597.8 177.0,593.4 179.0,590.5 180.6,593.4 182.6,598.4 184.5,595.4 185.9,591.9 187.5,598.3 188.9,615.1 190.3,632.9 191.5,633.9 192.9,631.9 194.2,648.7 195.4,668.6 195.9,679.8 198.5,699.6 199.9,705.5 201.1,703.9 202.4,704.5 203.4,715.4 205.0,723.3 207.4,730.3 209.4,735.2 211.3,743.1 213.3,748.1 215.3,750.0 217.3,747.1 219.3,739.2 221.6,729.3 223.6,715.4 224.8,700.3 225.4,676.4 226.1,651.1 226.8,630.9 228.1,609.0 229.8,587.1 231.5,570.2 233.2,561.0 234.9,559.8 236.6,561.8 238.6,570.2 240.3,580.3 242.0,588.8 244.0,593.0 245.0,594.7 246.3,599.3 247.7,608.2 249.3,608.2 251.2,619.1 253.6,634.9 254.8,658.0 256.0,680.0 257.9,703.5 260.4,723.3 263.8,728.3 265.8,733.2 267.4,743.1 269.7,752.0 272.7,753.4 274.7,754.0 277.6,752.6 279.6,750.0 281.6,739.2 284.2,719.4 286.2,699.6 287.5,669.9 288.5,640.8 290.4,599.3 292.8,589.4 295.2,573.5 297.8,562.7 299.7,567.6 301.7,574.5 303.7,593.3 305.7,596.3 307.6,603.2 309.6,615.1 311.0,620.0 313.0,613.1 314.6,617.1 316.2,632.0 317.5,655.0 318.7,679.8 320.1,705.5 321.7,715.4 323.6,717.8 325.2,715.4 326.6,716.4 328.0,729.3 329.6,747.1 331.6,760.9 333.5,765.9 335.5,767.3 337.5,764.9 340.5,761.3 343.0,757.0 345.4,748.1 347.8,737.2 349.4,719.4 350.4,699.6 351.3,679.8 352.3,652.0 354.0,615.1 354.9,600.0 356.1,591.9 357.3,588.8 358.3,585.1 358.9,575.8 359.5,566.6 360.1,557.3 360.9,553.9 361.5,554.9 362.3,561.0 363.2,562.6 364.7,563.8 365.7,565.3 366.6,570.9 367.5,574.3 368.7,575.2 370.3,574.6 372.1,573.1 373.7,572.7 375.2,574.0 376.8,575.2 378.6,575.2 380.4,574.7 382.6,574.6 383.8,575.5 384.8,576.8 386.1,577.5 389.1,578.1 392.0,579.1 395.0,580.5 398.0,581.5 401.9,580.5 404.9,581.9 407.9,583.8 410.8,583.4 413.8,583.8 416.8,583.0 419.7,583.8 422.7,582.4 425.7,583.8 428.6,585.0 432.6,583.0 436.6,583.8 439.5,585.4 442.0,587.8 444.6,587.2 447.3,586.5 450.6,585.8 453.2,587.2 455.8,587.5 457.8,586.9 460.4,588.5 463.1,587.8 465.1,588.5 467.7,587.2 470.3,587.8 473.0,588.5 475.6,588.5 477.6,589.5 479.6,590.8 482.2,590.4 484.9,589.5 487.5,588.9 490.1,589.1 492.8,590.4 494.7,591.1 496.7,590.4 499.4,590.8 502.0,591.8 504.6,591.4 506.6,592.2 509.3,593.1 511.9,593.5 514.5,593.7 517.2,594.1 519.8,594.7 522.5,595.7 525.1,596.4 527.7,596.8 530.4,596.1 532.3,596.8 534.3,597.7 536.3,598.8 537.9,598.4 538.7,593.7 539.4,592.0 540.2,597.5 541.3,611.6 542.2,632.0 542.6,660.0 543.8,691.4 545.4,722.8 547.3,746.3 548.5,751.8 549.6,747.9 550.4,730.6 551.2,699.2 552.0,660.0 552.8,624.2 553.5,584.9 554.3,569.2 555.1,550.4 555.9,545.7 556.7,550.4 557.5,559.8 559.0,564.5 560.1,569.2 561.4,592.8 562.2,624.2 562.6,660.0 563.0,691.4 564.5,730.6 566.9,760.5 568.5,769.1 570.0,760.5 571.1,730.6 572.1,691.4 572.4,660.0 572.6,616.3 573.6,561.4 574.7,548.8 575.8,547.3 577.1,552.0 578.3,560.6 579.9,566.1 581.0,577.1 581.8,608.5 582.2,660.0 583.1,691.4 584.6,730.6 586.2,760.5 587.8,765.5 589.3,760.5 590.4,730.6 591.5,691.4 592.2,660.0 592.6,610.0 593.2,551.4 594.0,532.6 594.7,532.6 595.7,540.4 597.6,546.7 599.1,551.4 600.7,558.5 603.1,561.6 605.4,563.9 607.8,565.5 610.1,569.4 612.5,572.6 614.5,575.7 616.4,574.6 618.7,573.7 621.1,573.1 623.5,574.2 625.8,575.7" fill="none" stroke="#4472C4" stroke-width="2.15" stroke-linejoin="round" stroke-linecap="round"/>
<text transform="translate(22.2,741.6) rotate(-90)" fill="#000">Compressive Stress (kPa)</text>
<text transform="translate(737.4,679.6) rotate(-90)" fill="#000">FCR (%)</text>
<text x="328.6" y="842.2" fill="#000">Time (sec)</text>
<text x="362.8" y="884.0" style="font-size:15.4px" fill="#000">(<tspan font-weight="bold">b</tspan>)</text>
</svg>
</body></html>
